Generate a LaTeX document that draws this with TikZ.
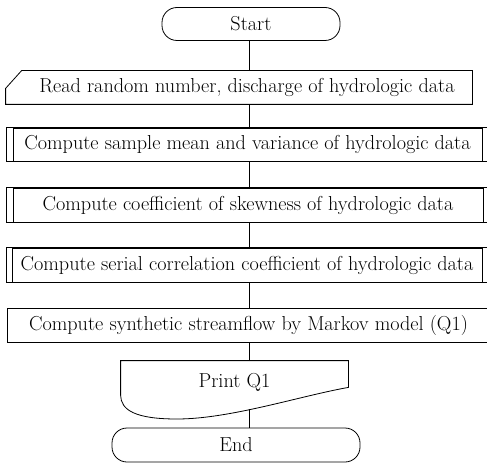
\documentclass[tikz,border=0pt]{standalone}
\usepackage{fontspec}
\setmainfont{Latin Modern Roman}
\usetikzlibrary{calc}
\begin{document}
\begin{tikzpicture}[x=1pt,y=-1pt,
  every node/.style={font=\fontsize{20.2}{22}\selectfont, inner sep=0pt, line width=0.8pt},
  term/.style={draw, rounded corners=15pt, minimum height=33pt},
  plainbox/.style={draw, minimum height=34pt},
  bare/.style={minimum height=34pt},
  line/.style={line width=0.8pt}]
\useasboundingbox (0,0) rectangle (487,465);
\coordinate (spine) at (249,0);
% terminals
\node[term, minimum width=178pt] (start) at (251,24) {Start};
% input box (slanted corner)
\node[bare, minimum width=450pt, minimum height=33pt] (read) at (247,87.5) {Read random number, discharge of hydrologic data};
\draw[line] (read.north west) -- (read.north east) -- (read.south east)
  -- ([xshift=-16pt]read.south west) -- ([xshift=-16pt,yshift=16pt]read.south west) -- cycle;
% predefined process boxes
\node[plainbox, minimum width=469pt, minimum height=33pt] (mean) at (247.5,144.5) {Compute sample mean and variance of hydrologic data};
\draw[line] ([xshift=-6pt]mean.north west) rectangle ([xshift=6pt]mean.south east);
\node[plainbox, minimum width=470pt] (skew) at (248,205) {Compute coefficient of skewness of hydrologic data};
\draw[line] ([xshift=-6pt]skew.north west) rectangle ([xshift=6pt]skew.south east);
\node[plainbox, minimum width=470pt] (serial) at (247,265) {Compute serial correlation coefficient of hydrologic data};
\draw[line] ([xshift=-5pt]serial.north west) rectangle ([xshift=6pt]serial.south east);
% process
\node[plainbox, minimum width=483pt] (markov) at (248.5,325) {Compute synthetic streamflow by Markov model (Q1)};
% document / print
\node[minimum width=227pt, minimum height=42pt] (print) at (234.5,382) {Print Q1};
\draw[line] (print.north west) -- (print.north east) -- ([yshift=16pt]print.south east)
  .. controls (300,396) and (230,419) .. (177,419)
  .. controls (135,419) and (121,410) .. ([yshift=8pt]print.south west) -- cycle;
\coordinate (pq) at (249,409);
\node[term, minimum width=248pt, minimum height=34pt] (end) at (236,445) {End};
% connectors
\draw[line] (start.south -| spine) -- (read.north -| spine);
\draw[line] (read.south -| spine) -- (mean.north -| spine);
\draw[line] (mean.south -| spine) -- (skew.north -| spine);
\draw[line] (skew.south -| spine) -- (serial.north -| spine);
\draw[line] (serial.south -| spine) -- (markov.north -| spine);
\draw[line] (markov.south -| spine) -- (print.north -| spine);
\draw[line] (pq) -- (end.north -| spine);
\end{tikzpicture}
\end{document}
